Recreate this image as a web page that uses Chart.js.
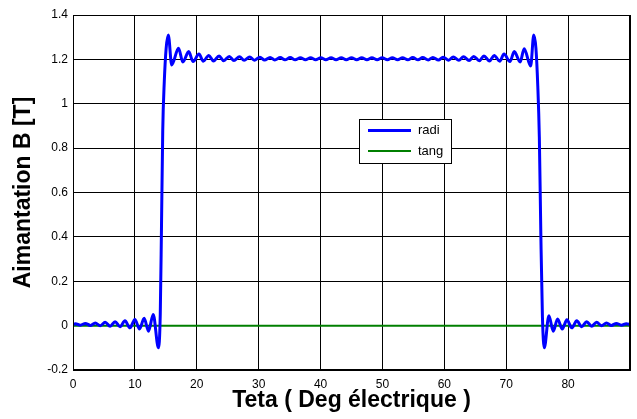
<!DOCTYPE html>
<html>
<head>
<meta charset="utf-8">
<script src="https://cdn.jsdelivr.net/npm/chart.js@4"></script>
<style>
body { margin: 0; background: #fff; }
canvas { display: block; }
</style>
</head>
<body>
<canvas id="c" width="637" height="419"></canvas>
<script>
// angle (deg electrique)
var theta = [
    0, 0.4, 1.2, 2.0, 2.8, 3.6, 4.4, 5.2, 6.0, 6.8, 7.6, 8.4, 9.2, 10.0, 10.75, 11.5, 12.2, 12.96,
    13.8, 14.1, 14.3, 14.5, 14.75, 15.05, 15.4, 15.95,
    17.05, 17.75, 18.7, 19.4, 20.35, 21.05, 21.95, 22.7, 23.6, 24.35, 25.25, 26.0, 26.9, 27.65,
    28.55, 29.3, 30.2, 30.95, 31.85, 32.6, 33.5, 34.25, 35.1, 35.9, 36.75, 37.55, 38.4, 39.2,
    40.05, 40.85, 41.7, 42.5, 43.35, 44.15, 45.0, 45.85, 46.65, 47.5, 48.3, 49.15, 49.95, 50.8,
    51.6, 52.45, 53.25, 54.1, 54.9, 55.75, 56.5, 57.4, 58.15, 59.05, 59.8, 60.7, 61.45, 62.35,
    63.1, 64.0, 64.75, 65.65, 66.4, 67.3, 68.05, 68.95, 69.65, 70.6, 71.3, 72.25, 72.9, 73.95,
    74.45, 74.8, 75.1, 75.35, 75.6, 75.85, 76.15,
    76.9, 77.6, 78.3, 79.05, 79.8, 80.6, 81.4, 82.2, 83.0, 83.8, 84.6, 85.4, 86.2, 87.0, 87.8,
    88.6, 89.4, 90
];
// composante radiale (T)
var radi = [
    0.005, 0.008, 0.002, 0.010, 0.001, 0.012, 0.000, 0.015, -0.003, 0.018, -0.005, 0.022, -0.010,
    0.028, -0.015, 0.033, -0.025, 0.050,
    -0.100, 0.050, 0.450, 0.880, 1.100, 1.250, 1.310, 1.175,
    1.250, 1.188, 1.235, 1.190, 1.224, 1.192, 1.218, 1.193, 1.215, 1.194, 1.213, 1.195, 1.212, 1.196,
    1.211, 1.196, 1.210, 1.197, 1.209, 1.197, 1.208, 1.198, 1.208, 1.198, 1.207, 1.198, 1.207, 1.198,
    1.207, 1.198, 1.207, 1.198, 1.207, 1.198, 1.207, 1.198, 1.207, 1.198, 1.207, 1.198, 1.207, 1.198,
    1.207, 1.198, 1.207, 1.198, 1.208, 1.198, 1.208, 1.197, 1.209, 1.197, 1.210, 1.196, 1.211, 1.196,
    1.212, 1.195, 1.213, 1.194, 1.215, 1.193, 1.218, 1.192, 1.224, 1.190, 1.235, 1.188, 1.248, 1.170,
    1.310, 1.250, 1.080, 0.850, 0.400, 0.040, -0.100,
    0.045, -0.025, 0.030, -0.015, 0.026, -0.010, 0.022, -0.005, 0.018, -0.003, 0.015, 0.000, 0.012,
    0.001, 0.010, 0.002, 0.008, 0.005
];
// composante tangentielle (T)
var tangTheta = [0, 90];
var tang = [0, 0];

var xTicks = [0, 10, 20, 30, 40, 50, 60, 70, 80];
var yTicks = [-0.2, 0, 0.2, 0.4, 0.6, 0.8, 1, 1.2, 1.4];

function toPoints(xs, ys) {
    return xs.map(function (x, i) { return {x: x, y: ys[i]}; });
}

var boxLegend = {
    id: 'boxLegend',
    afterDraw: function (chart, args, o) {
        var ctx = chart.ctx;
        var a = chart.chartArea;
        ctx.save();
        // cadre du graphe
        ctx.strokeStyle = '#000';
        ctx.lineWidth = 1;
        ctx.strokeRect(a.left + 0.5, a.top + 0.5, a.right - a.left - 1, a.bottom - a.top - 1);
        // legende
        ctx.fillStyle = '#fff';
        ctx.fillRect(o.x, o.y, o.w, o.h);
        ctx.strokeRect(o.x + 0.5, o.y + 0.5, o.w, o.h);
        ctx.font = '13px "Liberation Sans", Arial, sans-serif';
        ctx.textBaseline = 'middle';
        chart.data.datasets.forEach(function (ds, i) {
            var y = o.y + 11.5 + i * 20.5;
            ctx.strokeStyle = ds.borderColor;
            ctx.lineWidth = ds.borderWidth;
            ctx.beginPath();
            ctx.moveTo(o.x + 9, y);
            ctx.lineTo(o.x + 52, y);
            ctx.stroke();
            ctx.fillStyle = '#000';
            ctx.fillText(ds.label, o.x + 59, y);
        });
        ctx.restore();
    }
};

var font = '"Liberation Sans", Arial, sans-serif';

new Chart(document.getElementById('c'), {
    type: 'line',
    data: {
        datasets: [{
            label: 'radi',
            data: toPoints(theta, radi),
            borderColor: '#0000ff',
            borderWidth: 3,
            pointRadius: 0,
            cubicInterpolationMode: 'monotone'
        }, {
            label: 'tang',
            data: toPoints(tangTheta, tang),
            borderColor: '#007f00',
            borderWidth: 2,
            pointRadius: 0
        }]
    },
    options: {
        responsive: false,
        animation: false,
        layout: {padding: {top: 15, right: 2, left: 0, bottom: 0}},
        plugins: {
            legend: {display: false},
            tooltip: {enabled: false},
            boxLegend: {x: 359, y: 119, w: 92, h: 44}
        },
        scales: {
            x: {
                type: 'linear',
                min: 0,
                max: 90,
                afterFit: function (s) { s.height = 49; },
                afterBuildTicks: function (s) {
                    s.ticks = xTicks.concat([90]).map(function (v) { return {value: v}; });
                },
                ticks: {
                    autoSkip: false,
                    maxRotation: 0,
                    padding: 7,
                    color: '#000',
                    font: {family: font, size: 12},
                    callback: function (v) { return xTicks.indexOf(v) >= 0 ? String(v) : ''; }
                },
                grid: {color: '#000', lineWidth: 1, drawTicks: false},
                border: {color: '#000'},
                title: {
                    display: true,
                    text: 'Teta ( Deg électrique )',
                    color: '#000',
                    font: {family: font, size: 23, weight: 'bold'},
                    padding: {top: 0, bottom: 5}
                }
            },
            y: {
                min: -0.2,
                max: 1.4,
                afterFit: function (s) { s.width = 73; },
                afterBuildTicks: function (s) {
                    s.ticks = yTicks.map(function (v) { return {value: v}; });
                },
                ticks: {
                    padding: 5,
                    color: '#000',
                    font: {family: font, size: 12},
                    callback: function (v) { return String(Math.round(v * 10) / 10); }
                },
                grid: {color: '#000', lineWidth: 1, drawTicks: false},
                border: {color: '#000'},
                title: {
                    display: true,
                    text: 'Aimantation B [T]',
                    color: '#000',
                    font: {family: font, size: 23, weight: 'bold'},
                    padding: {top: 10, bottom: 0}
                }
            }
        }
    },
    plugins: [boxLegend]
});
</script>
</body>
</html>
